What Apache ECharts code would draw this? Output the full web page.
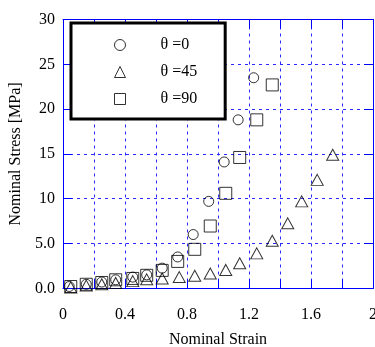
<!DOCTYPE html>
<html>
<head>
<meta charset="utf-8">
<script src="https://cdn.jsdelivr.net/npm/echarts@6/dist/echarts.min.js"></script>
<style>
html,body{margin:0;padding:0;background:#fff;}
#chart{width:375px;height:347px;}
</style>
</head>
<body>
<div id="chart"></div>
<script>
// Data
var seriesNames = ['θ =0', 'θ =45', 'θ =90'];
var xTheta0 = [0.04, 0.15, 0.25, 0.34, 0.45, 0.54, 0.64, 0.74, 0.84, 0.94, 1.04, 1.13, 1.23];
var yTheta0 = [0.2, 0.45, 0.7, 0.95, 1.25, 1.5, 2.25, 3.5, 6.0, 9.7, 14.1, 18.8, 23.5];
var xTheta45 = [0.05, 0.15, 0.25, 0.34, 0.45, 0.54, 0.64, 0.75, 0.85, 0.95, 1.05, 1.14, 1.25, 1.35, 1.45, 1.54, 1.64, 1.74];
var yTheta45 = [0.1, 0.3, 0.45, 0.6, 0.8, 1.0, 1.1, 1.25, 1.4, 1.65, 2.05, 2.8, 3.9, 5.3, 7.25, 9.7, 12.1, 14.9];
var xTheta90 = [0.05, 0.15, 0.25, 0.34, 0.45, 0.54, 0.64, 0.74, 0.85, 0.95, 1.05, 1.14, 1.25, 1.35];
var yTheta90 = [0.2, 0.45, 0.65, 0.95, 1.1, 1.45, 2.0, 3.0, 4.35, 6.95, 10.6, 14.6, 18.8, 22.7];
var xTickLabels = ['0', '0.4', '0.8', '1.2', '1.6', '2'];
var yTickLabels = ['0.0', '5.0', '10', '15', '20', '25', '30'];
var xTitle = 'Nominal Strain';
var yTitle = 'Nominal Stress [MPa]';

function zip(xs, ys) { return xs.map(function (x, i) { return [x, ys[i]]; }); }

var FONT = "'Liberation Serif', 'DejaVu Serif', serif";
var BLUE = '#0000ff';
var GRIDBLUE = '#2a2aff';

var hollow = { color: 'rgba(0,0,0,0)', borderColor: '#000', borderWidth: 1 };

var chart = echarts.init(document.getElementById('chart'), null, { renderer: 'canvas' });
chart.setOption({
  animation: false,
  backgroundColor: '#fff',
  textStyle: { fontFamily: FONT },
  grid: { left: 63, top: 19.5, width: 310, height: 268.8, containLabel: false, outerBoundsMode: 'none' },
  legend: {
    orient: 'vertical',
    left: 71, top: 23,
    padding: [14, 28, 12, 43],
    itemGap: 11,
    itemWidth: 11, itemHeight: 11,
    backgroundColor: '#fff',
    borderColor: '#000', borderWidth: 3, borderRadius: 0,
    textStyle: { fontFamily: FONT, fontSize: 16, color: '#000', padding: [0, 0, 0, 30] },
    data: [
      { name: seriesNames[0], icon: 'circle', itemStyle: hollow },
      { name: seriesNames[1], icon: 'triangle', itemStyle: hollow },
      { name: seriesNames[2], icon: 'rect', itemStyle: hollow }
    ]
  },
  xAxis: [{
    type: 'value', min: 0, max: 2, interval: 0.2, position: 'bottom',
    name: xTitle, nameLocation: 'middle', nameGap: 43,
    nameTextStyle: { fontFamily: FONT, fontSize: 16, color: '#000' },
    axisLine: { show: true, lineStyle: { color: BLUE, width: 1 } },
    axisTick: { show: true, inside: true, length: 9, lineStyle: { color: BLUE } },
    splitLine: { show: true, lineStyle: { color: GRIDBLUE, type: [3, 4], width: 1 } },
    axisLabel: {
      fontFamily: FONT, fontSize: 16, color: '#000', margin: 18,
      formatter: function (v, i) { return i % 2 === 0 ? xTickLabels[i / 2] : ''; }
    }
  }, {
    type: 'value', min: 0, max: 2, interval: 0.2, position: 'top',
    axisLine: { show: true, onZero: false, lineStyle: { color: BLUE, width: 1 } },
    axisTick: { show: true, inside: true, length: 9, lineStyle: { color: BLUE } },
    splitLine: { show: false }, axisLabel: { show: false }
  }],
  yAxis: [{
    type: 'value', min: 0, max: 30, interval: 5, position: 'left',
    name: yTitle, nameLocation: 'middle', nameGap: 32, nameRotate: 90,
    nameTextStyle: { fontFamily: FONT, fontSize: 16, color: '#000' },
    axisLine: { show: true, lineStyle: { color: BLUE, width: 1 } },
    axisTick: { show: true, inside: true, length: 9, lineStyle: { color: BLUE } },
    splitLine: { show: true, lineStyle: { color: GRIDBLUE, type: [3, 4], width: 1 } },
    axisLabel: {
      fontFamily: FONT, fontSize: 16, color: '#000', margin: 8,
      formatter: function (v, i) { return yTickLabels[i]; }
    }
  }, {
    type: 'value', min: 0, max: 30, interval: 5, position: 'right',
    axisLine: { show: true, onZero: false, lineStyle: { color: BLUE, width: 1 } },
    axisTick: { show: true, inside: true, length: 9, lineStyle: { color: BLUE } },
    splitLine: { show: false }, axisLabel: { show: false }
  }],
  series: [
    { name: seriesNames[0], type: 'scatter', symbol: 'circle', symbolSize: 10,
      itemStyle: hollow, data: zip(xTheta0, yTheta0), z: 3 },
    { name: seriesNames[1], type: 'scatter', symbol: 'triangle', symbolSize: [12, 11],
      itemStyle: hollow, data: zip(xTheta45, yTheta45), z: 3 },
    { name: seriesNames[2], type: 'scatter', symbol: 'rect', symbolSize: 12,
      itemStyle: hollow, data: zip(xTheta90, yTheta90), z: 3 }
  ]
});
</script>
</body>
</html>
